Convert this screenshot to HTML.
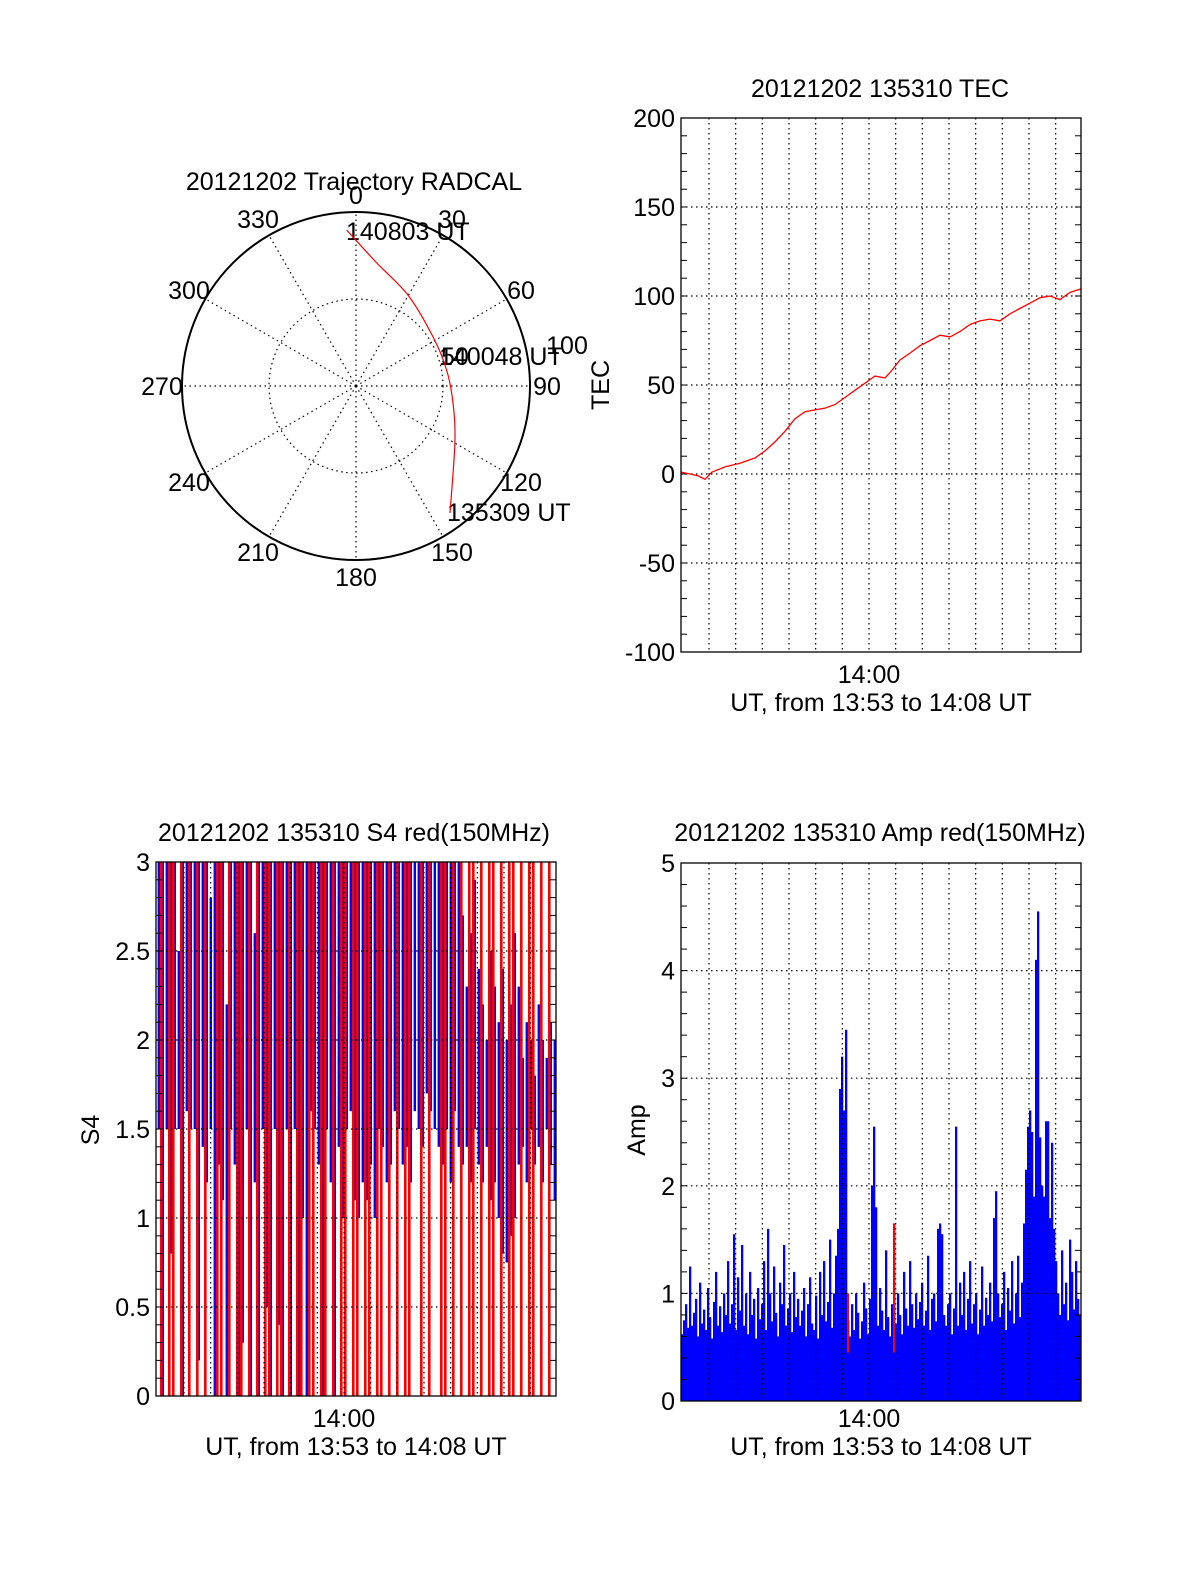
<!DOCTYPE html>
<html><head><meta charset="utf-8"><style>
body{margin:0;background:#fff;}
svg text{font-family:"Liberation Sans",sans-serif;font-size:25px;fill:#000;}
</style></head><body>
<svg id="s" width="1200" height="1575" viewBox="0 0 1200 1575" xmlns="http://www.w3.org/2000/svg">
<rect width="1200" height="1575" fill="#fff"/>
</svg>
<script>
// ---------- Data ----------
const polarAz = [356.6, 9.6, 29.7, 57.5, 80, 100, 120, 143.5];
const polarR = [89.8, 71.7, 60.2, 52.5, 52.9, 56.6, 65.6, 90.8];
const polarAngleLabels = ["0","30","60","90","120","150","180","210","240","270","300","330"];

const tecT = [0,0.34,0.64,0.90,1.16,1.65,2.21,2.77,3.15,3.52,3.90,4.27,4.65,5.02,5.40,5.77,6.15,6.52,6.90,7.27,7.65,7.84,8.21,8.59,8.96,9.34,9.71,10.09,10.46,10.84,11.21,11.59,11.96,12.34,12.71,13.09,13.46,13.84,14.21,14.59,15.0];
const tecV = [1,0,-1,-3,1,4,6,9,13,18,24,31,35,36,37,39,43,47,51,55,54,57,64,68,72,75,78,77,80,84,86,87,86,90,93,96,99,100,98,102,104];
const tecTicks = ["200","150","100","50","0","-50","-100"];

const s4BlueHi = [3,3,3,3,3,2.5,3,3,3,3, 3,3,3,2.8,3,3,3,2.2,3,3, 3,3,3,3,2.6,3,3,3,3,3, 3,3,3,3,3,3,3,3,3,3, 3,3,3,3,3,3,3,3,3,3, 3,3,3,3,3,3,3,3,3,3, 3,3,3,3,3,3,3,3,3,3, 3,3,3,3,3,3,2.7,2.3,2.6,2.9, 2.4,2.2,2.0,2.5,2.3,2.1,2.4,2.0,2.2,2.6, 2.3,1.9,2.1,2.0,1.8,2.2,2.0,1.9,2.1,2.0];
const s4BlueLo = [1.5,0,1.5,0.8,1.5,1.5,0,1.6,1.5,1.5, 0.2,1.4,1.2,1.5,0,1.3,1.1,0,1.5,1.3, 0,0.3,1.5,0,1.2,0,1.5,0.5,0,1.5, 0.4,0,1.5,0,1.5,0,1.0,0,1.6,1.5, 1.3,0,1.5,1.2,0,1.4,1.0,1.5,1.6,1.1, 1.0,1.2,1.1,1.3,1.0,1.5,1.4,1.2,1.3,1.6, 1.5,1.3,1.4,1.2,1.6,1.5,1.4,1.7,1.6,1.5, 1.4,1.3,1.5,1.2,1.6,1.4,1.3,1.4,1.2,1.5, 1.3,1.2,1.4,1.1,1.2,1.0,0.8,0.75,0.9,1.0, 1.3,1.4,1.2,1.5,1.3,1.4,1.2,1.5,1.3,1.1];
const s4RedTop = [0,3,0,3,3,0,3,0,3,0, 3,0,3,0,0,3,3,0,3,0, 3,3,0,3,0,3,0,3,3,0, 3,3,0,3,0,3,3,0,3,3, 0,3,3,0,3,0,3,3,0,3, 3,0,3,3,0,3,3,0,3,0, 3,0,3,3,0,0,3,0,3,0, 0,3,3,0,3,0,3,0,3,3, 0,3,0,3,3,0,3,0,3,3, 0,3,0,3,3,0,3,0,3,0];
const s4Ticks = ["0","0.5","1","1.5","2","2.5","3"];

const ampV = [.62,.75,.9,.68,1.25,.7,.82,.95,.6,1.1,.72,.85,.66,1.05,.78,.58,.92,1.2,.7,.88,
.64,1.0,.8,1.3,.72,.9,1.55,.66,1.15,.84,1.45,.7,1.0,.62,1.2,.8,.95,.58,1.05,.76,
.9,1.3,.66,1.6,1.0,.74,1.25,.82,.6,1.1,.9,1.45,.7,.86,1.0,.64,1.2,.78,.95,.7,
.84,1.05,.6,.9,1.15,.72,.66,.98,.58,1.2,.8,1.3,.74,.92,1.5,.68,1.0,1.35,1.6,2.9,
3.2,2.7,3.45,.75,.6,.9,.66,1.0,.82,.58,.74,1.1,.86,.62,.95,2.0,2.55,1.8,.7,1.05,
.84,.66,1.4,.78,.6,.9,1.65,.72,1.0,.8,.62,1.2,.86,.7,1.3,.9,.68,1.0,.76,.92,
1.1,.7,.84,1.35,.66,.95,1.0,.74,1.6,1.65,1.55,.8,.7,.9,1.0,.62,.86,2.55,.7,1.1,
.8,1.2,.66,.95,1.3,.72,.9,1.0,.62,.85,1.25,.7,.96,.8,1.1,.74,1.7,1.95,1.0,.78,
.9,1.2,.66,1.05,.84,1.3,.72,1.0,1.35,.78,1.1,1.65,2.15,2.55,2.7,2.5,1.9,4.1,4.55,2.45,
2.0,1.9,2.6,2.6,1.7,2.4,1.6,1.3,1.0,.8,1.4,.9,1.1,.75,1.5,1.2,.85,1.3,.95,.8];
const ampRedIdx = [83,106];
const ampRedVal = [1.0,1.65];
const ampTicks = ["0","1","2","3","4","5"];

// ---------- Helpers ----------
const S = document.getElementById('s');
const NS = 'http://www.w3.org/2000/svg';
function mk(tag, attrs, parent){
  const e = document.createElementNS(NS, tag);
  for (const k in attrs) e.setAttribute(k, attrs[k]);
  (parent||S).appendChild(e); return e;
}
function txt(x,y,s,anchor,name,extra){
  const t = mk('text',{x:x,y:y,'text-anchor':anchor||'middle'});
  t.textContent = s;
  
  
  if (extra) t.setAttribute('transform', extra);
  return t;
}
function dotted(x1,y1,x2,y2,name){
  const l = mk('line',{x1:x1,y1:y1,x2:x2,y2:y2,stroke:'#000','stroke-width':1.2,'stroke-dasharray':'1.5,3.5'});
  
  
  return l;
}
function frame(x0,y0,x1,y1,name){
  const r = mk('rect',{x:x0,y:y0,width:x1-x0,height:y1-y0,fill:'none',stroke:'#000','stroke-width':1.3});
  
  
}
function timeGrid(x0,y0,x1,y1,prefix){
  const sx = t => x0 + t*(x1-x0)/15;
  for (let k=-6;k<=7;k++){
    const x = sx(7.05+k);
    dotted(x,y0,x,y1,prefix+'-vgrid');
  }
  txt(sx(7.05), y1+31, '14:00', 'middle', prefix+'-x-tick-label');
  txt((x0+x1)/2, y1+59, 'UT, from 13:53 to 14:08 UT', 'middle', prefix+'-x-axis-title');
  return sx;
}
function yAxis(x0,y0,x1,y1,vmin,vmax,labels,minorStep,prefix){
  const sy = v => y1 - (v-vmin)*(y1-y0)/(vmax-vmin);
  labels.forEach(l=>{
    const v = parseFloat(l), y = sy(v);
    if (v>vmin && v<vmax) dotted(x0,y,x1,y,prefix+'-hgrid');
    txt(x0-6, y+9, l, 'end', prefix+'-y-tick-label');
  });
  for (let v=vmin; v<=vmax+1e-9; v+=minorStep){
    const y = sy(v);
    mk('line',{x1:x0,y1:y,x2:x0+6,y2:y,stroke:'#000','stroke-width':1});
    mk('line',{x1:x1,y1:y,x2:x1-6,y2:y,stroke:'#000','stroke-width':1});
  }
  return sy;
}

// ---------- Polar ----------
(function(){
  const cx=356, cy=386, R=174;
  txt(354, 190, '20121202 Trajectory RADCAL', 'middle', 'polar-title');
  const c1 = mk('circle',{cx:cx,cy:cy,r:R,fill:'none',stroke:'#000','stroke-width':2});
   
  const c2 = mk('circle',{cx:cx,cy:cy,r:R/2,fill:'none',stroke:'#000','stroke-width':1.2,'stroke-dasharray':'1.5,3.5'});
   
  for (let a=0;a<360;a+=30){
    const rad=a*Math.PI/180;
    dotted(cx,cy,cx+R*Math.sin(rad),cy-R*Math.cos(rad),'polar-spoke');
  }
  const lp = [[356,204],[452,228],[521,299],[547,395],[521,491],[452,561],[356,586],[258,561],[189,491],[162,395],[189,299],[258,228]];
  polarAngleLabels.forEach((l,i)=>txt(lp[i][0],lp[i][1],l,'middle','polar-angle-label'));
  txt(567,354,'100','middle','polar-radius-label');
  txt(441,365,'50','start','polar-radius-label');
  txt(439,365,'140048 UT','start','polar-time-label');
  txt(346,240,'140803 UT','start','polar-time-label');
  txt(447,521,'135309 UT','start','polar-time-label');
  const P = polarAz.map((a,i)=>{const rad=a*Math.PI/180, r=polarR[i]/100*R; return [cx+r*Math.sin(rad), cy-r*Math.cos(rad)];});
  let d = 'M'+P[0][0].toFixed(1)+','+P[0][1].toFixed(1);
  for (let i=0;i<P.length-1;i++){
    const p0=P[Math.max(i-1,0)], p1=P[i], p2=P[i+1], p3=P[Math.min(i+2,P.length-1)];
    const c1x=p1[0]+(p2[0]-p0[0])/6, c1y=p1[1]+(p2[1]-p0[1])/6;
    const c2x=p2[0]-(p3[0]-p1[0])/6, c2y=p2[1]-(p3[1]-p1[1])/6;
    d += ' C'+c1x.toFixed(1)+','+c1y.toFixed(1)+' '+c2x.toFixed(1)+','+c2y.toFixed(1)+' '+p2[0].toFixed(1)+','+p2[1].toFixed(1);
  }
  const p = mk('path',{d:d,fill:'none',stroke:'#f00','stroke-width':1.2});
   
})();

// ---------- TEC ----------
(function(){
  const x0=681,y0=118,x1=1081,y1=652;
  txt(880,97,'20121202 135310 TEC','middle','tec-title');
  const sx = timeGrid(x0,y0,x1,y1,'tec');
  const sy = yAxis(x0,y0,x1,y1,-100,200,tecTicks,10,'tec');
  txt(0,0,'TEC','middle','tec-y-axis-title','translate(609,385) rotate(-90)');
  const pts = tecT.map((t,i)=>sx(t).toFixed(1)+','+sy(tecV[i]).toFixed(1));
  const p = mk('polyline',{points:pts.join(' '),fill:'none',stroke:'#f00','stroke-width':1.3});
   
  frame(x0,y0,x1,y1,'tec-plot-frame');
})();

// ---------- S4 ----------
(function(){
  const x0=156,y0=862,x1=556,y1=1396;
  txt(354,841,'20121202 135310 S4 red(150MHz)','middle','s4-title');
  const sy = v => y1 - v*(y1-y0)/3;
  const w = (x1-x0)/s4BlueHi.length;
  s4BlueHi.forEach((h,i)=>{
    const r = mk('rect',{x:x0+i*w+1.6,y:sy(h),width:2.4,height:sy(s4BlueLo[i])-sy(h),fill:'#00f'});
     
  });
  s4RedTop.forEach((h,i)=>{
    if (!h) return;
    const r = mk('rect',{x:x0+i*w,y:sy(h),width:2.6,height:sy(0)-sy(h),fill:'#f00'});
     
  });
  timeGrid(x0,y0,x1,y1,'s4');
  yAxis(x0,y0,x1,y1,0,3,s4Ticks,0.1,'s4');
  txt(0,0,'S4','middle','s4-y-axis-title','translate(99,1130) rotate(-90)');
  frame(x0,y0,x1,y1,'s4-plot-frame');
})();

// ---------- Amp ----------
(function(){
  const x0=681,y0=863,x1=1081,y1=1401;
  txt(880,841,'20121202 135310 Amp red(150MHz)','middle','amp-title');
  const sy = v => y1 - v*(y1-y0)/5;
  const w = (x1-x0)/ampV.length;
  ampV.forEach((v,i)=>{
    const r = mk('rect',{x:x0+i*w,y:sy(v),width:w+0.3,height:y1-sy(v),fill:'#00f'});
     
  });
  ampRedIdx.forEach((idx,j)=>{
    const v = ampRedVal[j];
    const r = mk('rect',{x:x0+idx*w,y:sy(v),width:2,height:sy(0.45)-sy(v),fill:'#f00'});
     
  });
  timeGrid(x0,y0,x1,y1-5,'amp');
  yAxis(x0,y0,x1,y1,0,5,ampTicks,0.2,'amp');
  txt(0,0,'Amp','middle','amp-y-axis-title','translate(645,1130) rotate(-90)');
  frame(x0,y0,x1,y1,'amp-plot-frame');
})();
</script>
</body></html>
